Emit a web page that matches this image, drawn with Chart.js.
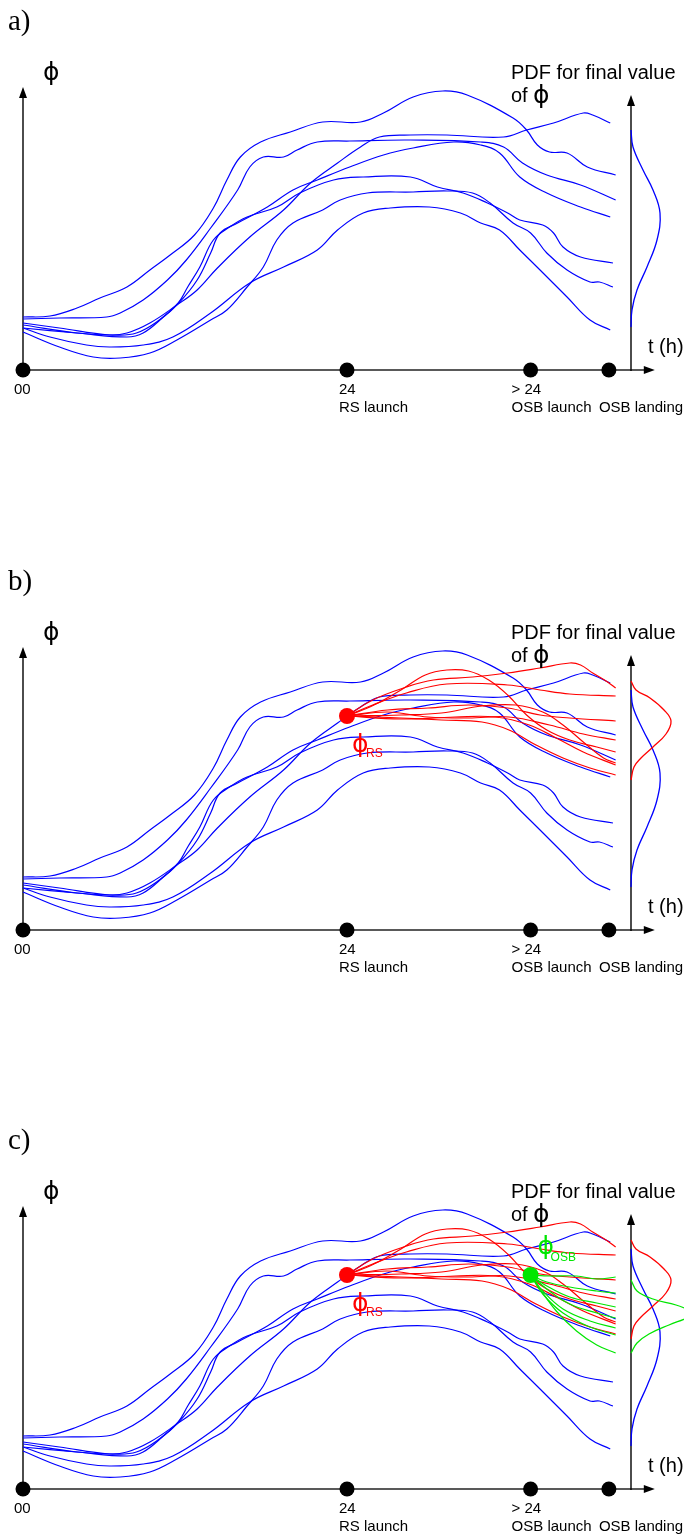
<!DOCTYPE html>
<html>
<head>
<meta charset="utf-8">
<script src="https://cdn.jsdelivr.net/npm/chart.js@4/dist/chart.umd.min.js"></script>
<style>
  body { margin: 0; background: #fff; }
  canvas { display: block; }
</style>
</head>
<body>
<canvas id="panelA" width="684" height="560"></canvas>
<canvas id="panelB" width="684" height="559"></canvas>
<canvas id="panelC" width="684" height="417"></canvas>
<script>
// time axis milestones (hours) and their labels
const milestoneT = [0, 24, 37.6, 43.4];
const milestoneTop = ['00', '24', '> 24', ''];
const milestoneBottom = ['', 'RS launch', 'OSB launch', 'OSB landing'];

// ensemble runs, [t (h), phi]
const blueRun1 = [[0,53],[2,54],[4,62],[5.7,72],[7.7,83],[9.4,100],[10.9,115],[12.7,135],[14.1,162],[15.1,190],[16.1,213],[17.6,228],[19.8,238],[22.2,248],[25,248],[26.7,257],[28.9,273],[31.1,279],[32.9,275],[36.3,252],[37.3,240],[38.1,225],[39,218],[40.3,217],[41.8,203],[43.9,195]];
const blueRun2 = [[0,51],[2.7,52],[6.2,53],[7.2,57],[8.9,70],[10.7,90],[12.1,110],[13.9,142],[15.9,180],[16.8,203],[17.8,213],[19.3,213],[20.3,220],[21.8,228],[24.2,229],[28.7,230],[33.9,228],[35.6,223],[37,207],[38.8,195],[41.3,185],[43.9,170]];
const blueRun3 = [[0,47],[2.7,42],[6.4,35],[7.7,37],[9.4,47],[11.4,65],[12.9,80],[14.4,102],[16.8,133],[19.3,160],[21.3,187],[23.3,207],[25,223],[26.4,233],[28.7,235],[31.4,235],[35.6,233],[37.3,240],[39.3,247],[41.5,257],[42.2,255],[43.5,247]];
const blueRun4 = [[0,42],[4,37],[7.7,33],[8.9,37],[10.4,53],[11.5,67],[12.2,83],[13.1,103],[14.1,130],[15.3,143],[16.6,153],[18.8,163],[20.5,177],[23,190],[25.2,193],[28.7,193],[30.7,183],[32.6,177],[34.4,167],[35.9,157],[36.8,150],[38.5,145],[39.3,137],[40,123],[41.3,113],[43.7,107]];
const blueRun5 = [[0,45],[4,37],[6.7,35],[8.4,37],[10.1,50],[11.6,68],[12.9,90],[13.9,117],[14.6,137],[15.9,147],[18.1,163],[20,180],[21.8,190],[24.2,203],[26.7,215],[28.9,222],[31.9,228],[33.9,225],[35.3,217],[36.8,193],[38.8,177],[41.3,163],[43.5,153]];
const blueRun6 = [[0,42],[2,33],[4.7,25],[6.4,23],[8.9,25],[11.1,33],[13.9,57],[16.8,87],[19.3,103],[21.8,120],[23.3,140],[25.2,157],[27.2,162],[30.1,163],[32.4,157],[33.9,147],[35.3,140],[36.8,120],[38.3,100],[40.3,73],[42,50],[43.5,40]];
const blueRun7 = [[0,38],[2.7,23],[5.2,13],[7.2,12],[9.4,17],[11.4,30],[13.9,50],[15.1,60],[16.6,83],[17.8,103],[18.8,130],[20,147],[22.2,160],[23.5,170],[25.5,177],[28.9,178],[31.4,179],[33.3,177],[34.6,167],[36.3,147],[37.6,137],[38.8,117],[40.3,100],[42,88],[42.7,88],[43.7,83]];

// runs restarted at RS launch
const rsStart = [24, 214];
const redRun1 = [[24,214],[25.9,230],[28.4,243],[30.4,250],[33.3,253],[35.9,257],[38.3,262],[40.5,267],[41.3,265],[42.2,257],[43.3,248],[43.9,242]];
const redRun2 = [[24,214],[25.9,225],[28.4,237],[31.4,246],[35.9,245],[38.3,240],[40.5,236],[43.9,234]];
const redRun3 = [[24,214],[26,225],[28,240],[29.8,255],[31.4,260],[33,259],[34.5,250],[35.9,235],[37.3,215],[38.8,200],[40.5,190],[42.5,183],[43.9,178]];
const redRun4 = [[24,214],[27,220],[30,222],[33,225],[35.9,222],[38.3,215],[40.5,212],[43.9,209]];
const redRun5 = [[24,214],[28,215],[31,217],[34,224],[36.5,225],[38.5,218],[40,205],[41.5,188],[43,172],[43.9,167]];
const redRun6 = [[24,214],[28,212],[31,210],[34,208],[36,200],[38,185],[40,172],[42,162],[43.9,155]];
const redRun7 = [[24,214],[28,211],[32,213],[35,213],[37.5,205],[39.5,192],[41.5,178],[43.9,165]];
const redRun8 = [[24,214],[27,218],[30,213],[33,212],[36,213],[39,205],[41.5,196],[43.9,190]];

// runs restarted at OSB launch
const osbStart = [37.6, 214];
const greenRun1 = [[37.6,214],[39,213],[41,213],[42.5,210],[43.9,212]];
const greenRun2 = [[37.6,214],[38.8,207],[40.5,202],[42.5,198],[43.9,196]];
const greenRun3 = [[37.6,214],[38.8,203],[40.5,192],[42.5,186],[43.9,182]];
const greenRun4 = [[37.6,214],[38.8,200],[40.5,185],[42.5,176],[43.9,171]];
const greenRun5 = [[37.6,214],[38.5,198],[40,180],[42,168],[43.9,161]];
const greenRun6 = [[37.6,214],[38.5,195],[40,176],[42,162],[43.9,154]];
const greenRun7 = [[37.6,214],[38.3,200],[39.5,178],[41,158],[42.5,144],[43.9,136]];

// PDFs of the final value, [density, phi]
const pdfBlue = [[0,240],[2,223],[12,200],[22,180],[29,157],[26,130],[16,103],[6,80],[1,60],[0,43]];
const pdfRed = [[0,249],[5,240],[19,232],[33,220],[40,209],[35,196],[22,183],[10,172],[3,163],[0,150]];
const pdfGreen = [[0,209],[6,198],[22,190],[45,184],[60,178],[62,176],[58,172],[38,164],[18,155],[6,146],[0,136]];

const blueRuns = [blueRun1, blueRun2, blueRun3, blueRun4, blueRun5, blueRun6, blueRun7];
const redRuns = [redRun1, redRun2, redRun3, redRun4, redRun5, redRun6, redRun7, redRun8];
const greenRuns = [greenRun1, greenRun2, greenRun3, greenRun4, greenRun5, greenRun6, greenRun7];

const BLUE = '#0000ff', RED = '#ff0000', GREEN = '#00e600';
const SANS = '"Liberation Sans", "DejaVu Sans", Arial, sans-serif';
const PHI = '\u03D5';
const PHI_FONT = '25px "DejaVu Sans", sans-serif';

function runSets(runs, color, order) {
  return runs.map(run => ({
    data: run.map(([t, v]) => ({ x: t, y: v })),
    borderColor: color, borderWidth: 1.2, pointRadius: 0, tension: 0.4, order
  }));
}

function pdfSet(points, color, order) {
  return {
    xAxisID: 'xp',
    data: points.map(([d, v]) => ({ x: d, y: v })),
    borderColor: color, borderWidth: 1.3, pointRadius: 0, tension: 0.4, order
  };
}

function dotSet(points, color, r) {
  return {
    data: points.map(([t, v]) => ({ x: t, y: v })),
    showLine: false, pointRadius: r, pointBackgroundColor: color,
    pointBorderWidth: 0, borderColor: color, order: 0
  };
}

function arrowHead(ctx, x, y, dir) {
  ctx.beginPath();
  if (dir === 'right') {
    ctx.moveTo(x, y); ctx.lineTo(x - 11, y - 4); ctx.lineTo(x - 11, y + 4);
  } else {
    ctx.moveTo(x, y); ctx.lineTo(x - 4, y + 11); ctx.lineTo(x + 4, y + 11);
  }
  ctx.closePath();
  ctx.fill();
}

const diagram = {
  id: 'diagram',
  beforeDatasetsDraw(chart, args, opts) {
    const { ctx, scales: { x, y, xp } } = chart;
    const x0 = x.getPixelForValue(0), y0 = y.getPixelForValue(0);
    const xEnd = x.getPixelForValue(46.8);
    const yTop = y.getPixelForValue(283);
    const xq = xp.getPixelForValue(0), yqTop = y.getPixelForValue(275);
    ctx.save();
    ctx.fillStyle = '#000';
    ctx.strokeStyle = '#222';
    ctx.lineWidth = 1.6;
    ctx.beginPath(); ctx.moveTo(x0, y0); ctx.lineTo(xEnd - 6, y0); ctx.stroke();
    arrowHead(ctx, xEnd, y0, 'right');
    ctx.strokeStyle = '#000';
    ctx.lineWidth = 1.4;
    ctx.beginPath(); ctx.moveTo(x0, y0); ctx.lineTo(x0, yTop + 6); ctx.stroke();
    arrowHead(ctx, x0, yTop, 'up');
    ctx.beginPath(); ctx.moveTo(xq, y0 + 1); ctx.lineTo(xq, yqTop + 6); ctx.stroke();
    arrowHead(ctx, xq, yqTop, 'up');
    ctx.restore();
  },
  afterDatasetsDraw(chart, args, opts) {
    const { ctx, scales: { x, y } } = chart;
    const y0 = y.getPixelForValue(0);
    ctx.save();
    ctx.fillStyle = '#000';
    ctx.textBaseline = 'alphabetic';
    ctx.font = '29px "Liberation Serif", serif';
    ctx.fillText(opts.letter, 8, 30);

    ctx.textBaseline = 'middle';
    ctx.font = PHI_FONT;
    ctx.fillText(PHI, 43, 73);
    ctx.font = '20px ' + SANS;
    ctx.fillText('PDF for final value', 511, 73);
    ctx.fillText('of', 511, 96);
    ctx.font = PHI_FONT;
    ctx.fillText(PHI, 533, 96);
    ctx.font = '20px ' + SANS;
    ctx.fillText('t (h)', 648, 347);

    ctx.font = '15px ' + SANS;
    const labelShift = [-9, -8, -19, -10];
    milestoneT.forEach((t, i) => {
      const px = x.getPixelForValue(t) + labelShift[i];
      if (milestoneTop[i]) ctx.fillText(milestoneTop[i], px, y0 + 20);
      if (milestoneBottom[i]) ctx.fillText(milestoneBottom[i], px, y0 + 38);
    });

    if (opts.stage >= 1) {
      const rx = x.getPixelForValue(rsStart[0]), ry = y.getPixelForValue(rsStart[1]);
      ctx.fillStyle = RED;
      ctx.font = PHI_FONT;
      ctx.fillText(PHI, rx + 5, ry + 29);
      ctx.font = '12px ' + SANS;
      ctx.fillText('RS', rx + 19, ry + 38);
    }
    if (opts.stage >= 2) {
      const gx = x.getPixelForValue(osbStart[0]), gy = y.getPixelForValue(osbStart[1]);
      ctx.fillStyle = GREEN;
      ctx.font = PHI_FONT;
      ctx.fillText(PHI, gx + 7, gy - 28);
      ctx.font = '12px ' + SANS;
      ctx.fillText('OSB', gx + 20, gy - 17);
    }
    ctx.restore();
  }
};

function buildPanel(id, letter, stage) {
  const canvas = document.getElementById(id);
  const h = canvas.height;
  const datasets = [];
  datasets.push(dotSet(milestoneT.map(t => [t, 0]), '#000', 7.5));
  if (stage >= 2) {
    datasets.push(dotSet([osbStart], GREEN, 8));
    datasets.push(...runSets(greenRuns, GREEN, 1));
    datasets.push(pdfSet(pdfGreen, GREEN, 1));
  }
  if (stage >= 1) {
    datasets.push(dotSet([rsStart], RED, 8));
    datasets.push(...runSets(redRuns, RED, 2));
    datasets.push(pdfSet(pdfRed, RED, 2));
  }
  datasets.push(...runSets(blueRuns, BLUE, 3));
  datasets.push(pdfSet(pdfBlue, BLUE, 3));

  new Chart(canvas.getContext('2d'), {
    type: 'line',
    data: { datasets },
    options: {
      responsive: false,
      animation: false,
      events: [],
      layout: { padding: 0, autoPadding: false },
      scales: {
        x: { type: 'linear', display: false, min: -23 / 13.5, max: 661 / 13.5 },
        xp: { type: 'linear', display: false, min: -631, max: 53 },
        y: { type: 'linear', display: false, min: 370 - h, max: 370 }
      },
      plugins: {
        legend: { display: false },
        tooltip: { enabled: false },
        diagram: { letter, stage }
      }
    },
    plugins: [diagram]
  });
}

buildPanel('panelA', 'a)', 0);
buildPanel('panelB', 'b)', 1);
buildPanel('panelC', 'c)', 2);
</script>
</body>
</html>
